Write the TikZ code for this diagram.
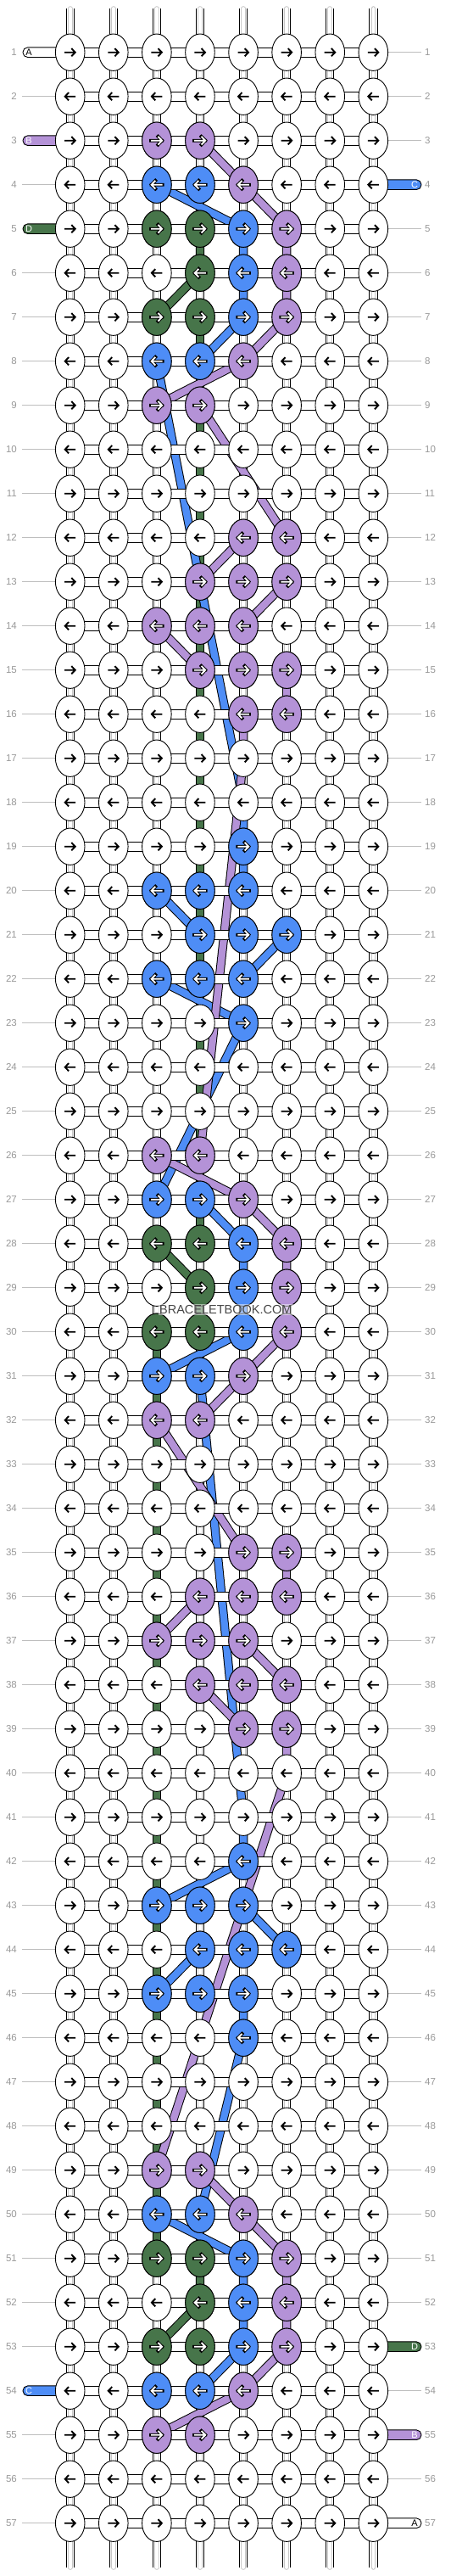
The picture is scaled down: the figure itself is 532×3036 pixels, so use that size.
\documentclass[tikz,border=0pt]{standalone}
\usepackage{fontspec}
\setmainfont{Liberation Sans}
\usetikzlibrary{shapes.geometric}
\definecolor{pur}{RGB}{180,146,215}
\definecolor{blu}{RGB}{78,141,246}
\definecolor{grn}{RGB}{71,117,74}
\definecolor{lblc}{RGB}{153,153,153}
\definecolor{glc}{RGB}{190,190,190}
\definecolor{innc}{RGB}{200,200,200}
\definecolor{wmc}{RGB}{70,70,70}
\begin{document}
\begin{tikzpicture}[x=1pt,y=-1pt,
 colthr/.style={line width=8.4pt, draw=white, line cap=round, preaction={draw=black,line width=10.4pt}, postaction={draw=innc,line width=5.6pt}, postaction={draw=white,line width=3.6pt}},
 thr/.style={line width=8.4pt, draw=#1, line join=round, preaction={draw=black, line width=10.4pt}},
 hbar/.style={line width=9.6pt, draw=white, preaction={draw=black, line width=11.6pt}},
 knot/.style={ellipse, draw=black, line width=0.9pt, fill=#1, minimum width=34.6pt, minimum height=43.4pt, inner sep=0pt, outer sep=0pt},
 gline/.style={draw=glc, line width=1pt},
 num/.style={text=lblc, font=\fontsize{11.5}{12}\selectfont, inner sep=0pt},
 stubl/.style={font=\fontsize{11}{12}\selectfont, inner sep=0pt},
 arrB/.pic={\draw[line width=1.9pt, black] (-6.5,0) -- (6,0) (1.6,-4.6) -- (6,0) -- (1.6,4.6);},
 arrW/.pic={\draw[line width=3.9pt, black, line cap=rect] (-6.8,0) -- (6.2,0) (1.6,-4.8) -- (6.2,0) -- (1.6,4.8);
            \draw[line width=1.9pt, white] (-6.8,0) -- (6.2,0) (1.6,-4.8) -- (6.2,0) -- (1.6,4.8);}
]
\fill[white] (0,0) rectangle (532,3036);
\useasboundingbox (0,0) rectangle (532,3036);

% grid coordinates
\foreach \r in {1,...,57}{\foreach \c in {1,...,8}{\coordinate (p-\r-\c) at ({82.7+(\c-1)*51.09},{61.7+(\r-1)*52});}}
\foreach \c in {1,...,8}{\coordinate (t-\c) at ({82.7+(\c-1)*51.09},10); \coordinate (b-\c) at ({82.7+(\c-1)*51.09},3026);}

% vertical base threads
\foreach \c in {1,...,8}{\draw[colthr] (t-\c) -- (b-\c);}

% green threads
\draw[thr=grn] (p-5-4) -- (p-6-4) -- (p-7-3);
\draw[thr=grn] (p-7-4) -- (p-28-4);
\draw[thr=grn] (p-28-3) -- (p-29-4) -- (p-30-4);
\draw[thr=grn] (p-30-3) -- (p-51-3);
\draw[thr=grn] (p-51-4) -- (p-52-4) -- (p-53-3);
% blue threads
\draw[thr=blu] (p-4-3) -- (p-5-5) -- (p-6-5) -- (p-7-5) -- (p-8-4);
\draw[thr=blu] (p-8-3) -- (p-18-5) -- (p-19-5) -- (p-20-5);
\draw[thr=blu] (p-20-3) -- (p-21-4);
\draw[thr=blu] (p-21-6) -- (p-22-5);
\draw[thr=blu] (p-22-3) -- (p-23-5) -- (p-27-3);
\draw[thr=blu] (p-27-4) -- (p-28-5) -- (p-29-5) -- (p-30-5) -- (p-31-3);
\draw[thr=blu] (p-31-4) -- (p-41-5) -- (p-42-5) -- (p-43-3);
\draw[thr=blu] (p-43-5) -- (p-44-6);
\draw[thr=blu] (p-44-4) -- (p-45-3);
\draw[thr=blu] (p-45-5) -- (p-46-5) -- (p-50-4);
\draw[thr=blu] (p-50-3) -- (p-51-5) -- (p-52-5) -- (p-53-5) -- (p-54-4);
% purple threads
\draw[thr=pur] (p-3-4) -- (p-5-6) -- (p-6-6) -- (p-7-6) -- (p-8-5) -- (p-9-3);
\draw[thr=pur] (p-9-4) -- (p-12-6);
\draw[thr=pur] (p-12-5) -- (p-13-4);
\draw[thr=pur] (p-13-6) -- (p-14-5);
\draw[thr=pur] (p-14-3) -- (p-15-4);
\draw[thr=pur] (p-15-6) -- (p-16-6);
\draw[thr=pur] (p-16-5) -- (p-17-5) -- (p-26-4);
\draw[thr=pur] (p-26-3) -- (p-27-5) -- (p-28-6) -- (p-29-6) -- (p-30-6) -- (p-31-5) -- (p-32-4);
\draw[thr=pur] (p-32-3) -- (p-35-5);
\draw[thr=pur] (p-35-6) -- (p-36-6);
\draw[thr=pur] (p-36-4) -- (p-37-3);
\draw[thr=pur] (p-37-5) -- (p-38-6);
\draw[thr=pur] (p-38-4) -- (p-39-5);
\draw[thr=pur] (p-39-6) -- (p-40-6) -- (p-49-3);
\draw[thr=pur] (p-49-4) -- (p-50-5) -- (p-51-6) -- (p-52-6) -- (p-53-6) -- (p-54-5) -- (p-55-3);

% horizontal working threads
\foreach \r in {1,...,57}{\draw[hbar] (p-\r-1) -- (p-\r-8);}

% side lines and stubs
\foreach \r in {1,...,57}{
  \pgfmathtruncatemacro\L{(\r==1)||(\r==3)||(\r==5)||(\r==54)}
  \pgfmathtruncatemacro\R{(\r==4)||(\r==53)||(\r==55)||(\r==57)}
  \ifnum\L=0 \draw[gline] (26,{61.7+(\r-1)*52}) -- (66,{61.7+(\r-1)*52}); \fi
  \ifnum\R=0 \draw[gline] (457,{61.7+(\r-1)*52}) -- (497,{61.7+(\r-1)*52}); \fi
}
\foreach \r/\col/\t/\tc in {1/white/A/black, 3/pur/B/white, 5/grn/D/white, 54/blu/C/white}{
  \filldraw[fill=\col, draw=black, line width=0.9pt, rounded corners=5.6pt] (27,{61.7+(\r-1)*52-5.8}) rectangle (78,{61.7+(\r-1)*52+5.8});
  \node[stubl, text=\tc] (sl-\r) at (34,{61.7+(\r-1)*52}) {\t};
}
\foreach \r/\col/\t/\tc in {4/blu/C/white, 53/grn/D/white, 55/pur/B/white, 57/white/A/black}{
  \filldraw[fill=\col, draw=black, line width=0.9pt, rounded corners=5.6pt] (445,{61.7+(\r-1)*52-5.8}) rectangle (497,{61.7+(\r-1)*52+5.8});
  \node[stubl, text=\tc] (sr-\r) at (489,{61.7+(\r-1)*52}) {\t};
}

% white knots
\foreach \r in {1,...,57}{\foreach \c in {1,...,8}{
  \node[knot=white] (k-\r-\c) at (p-\r-\c) {};
  \ifodd\r \pic at (p-\r-\c) {arrB}; \else \pic[xscale=-1] at (p-\r-\c) {arrB}; \fi
}}
% coloured knots
\foreach \o in {0,23,46}{
 \foreach \k/\c/\col in {0/3/pur,0/4/pur, 1/3/blu,1/4/blu,1/5/pur, 2/3/grn,2/4/grn,2/5/blu,2/6/pur, 3/4/grn,3/5/blu,3/6/pur, 4/3/grn,4/4/grn,4/5/blu,4/6/pur, 5/3/blu,5/4/blu,5/5/pur, 6/3/pur,6/4/pur, 9/5/pur,9/6/pur, 10/4/pur,10/5/pur,10/6/pur, 11/3/pur,11/4/pur,11/5/pur, 12/4/pur,12/5/pur,12/6/pur, 13/5/pur,13/6/pur, 16/5/blu, 17/3/blu,17/4/blu,17/5/blu, 18/4/blu,18/5/blu,18/6/blu, 19/3/blu,19/4/blu,19/5/blu, 20/5/blu}{
  \pgfmathtruncatemacro\rr{3+\k+\o}
  \ifnum\rr<56
    \node[knot=\col] (kc-\rr-\c) at (p-\rr-\c) {};
    \ifodd\rr \pic at (p-\rr-\c) {arrW}; \else \pic[xscale=-1] at (p-\rr-\c) {arrW}; \fi
  \fi
 }
}

% row numbers
\foreach \r in {1,...,57}{
  \node[num, anchor=east] (nl-\r) at (20,{61.7+(\r-1)*52}) {\r};
  \node[num, anchor=west] (nr-\r) at (501,{61.7+(\r-1)*52}) {\r};
}

% watermark
\node[font=\fontsize{14.5}{15}\selectfont, text=wmc, fill=white, fill opacity=0.5, text opacity=1, inner sep=1.5pt] (wm) at (266.3,1543.7) {BRACELETBOOK.COM};
\end{tikzpicture}
\end{document}
